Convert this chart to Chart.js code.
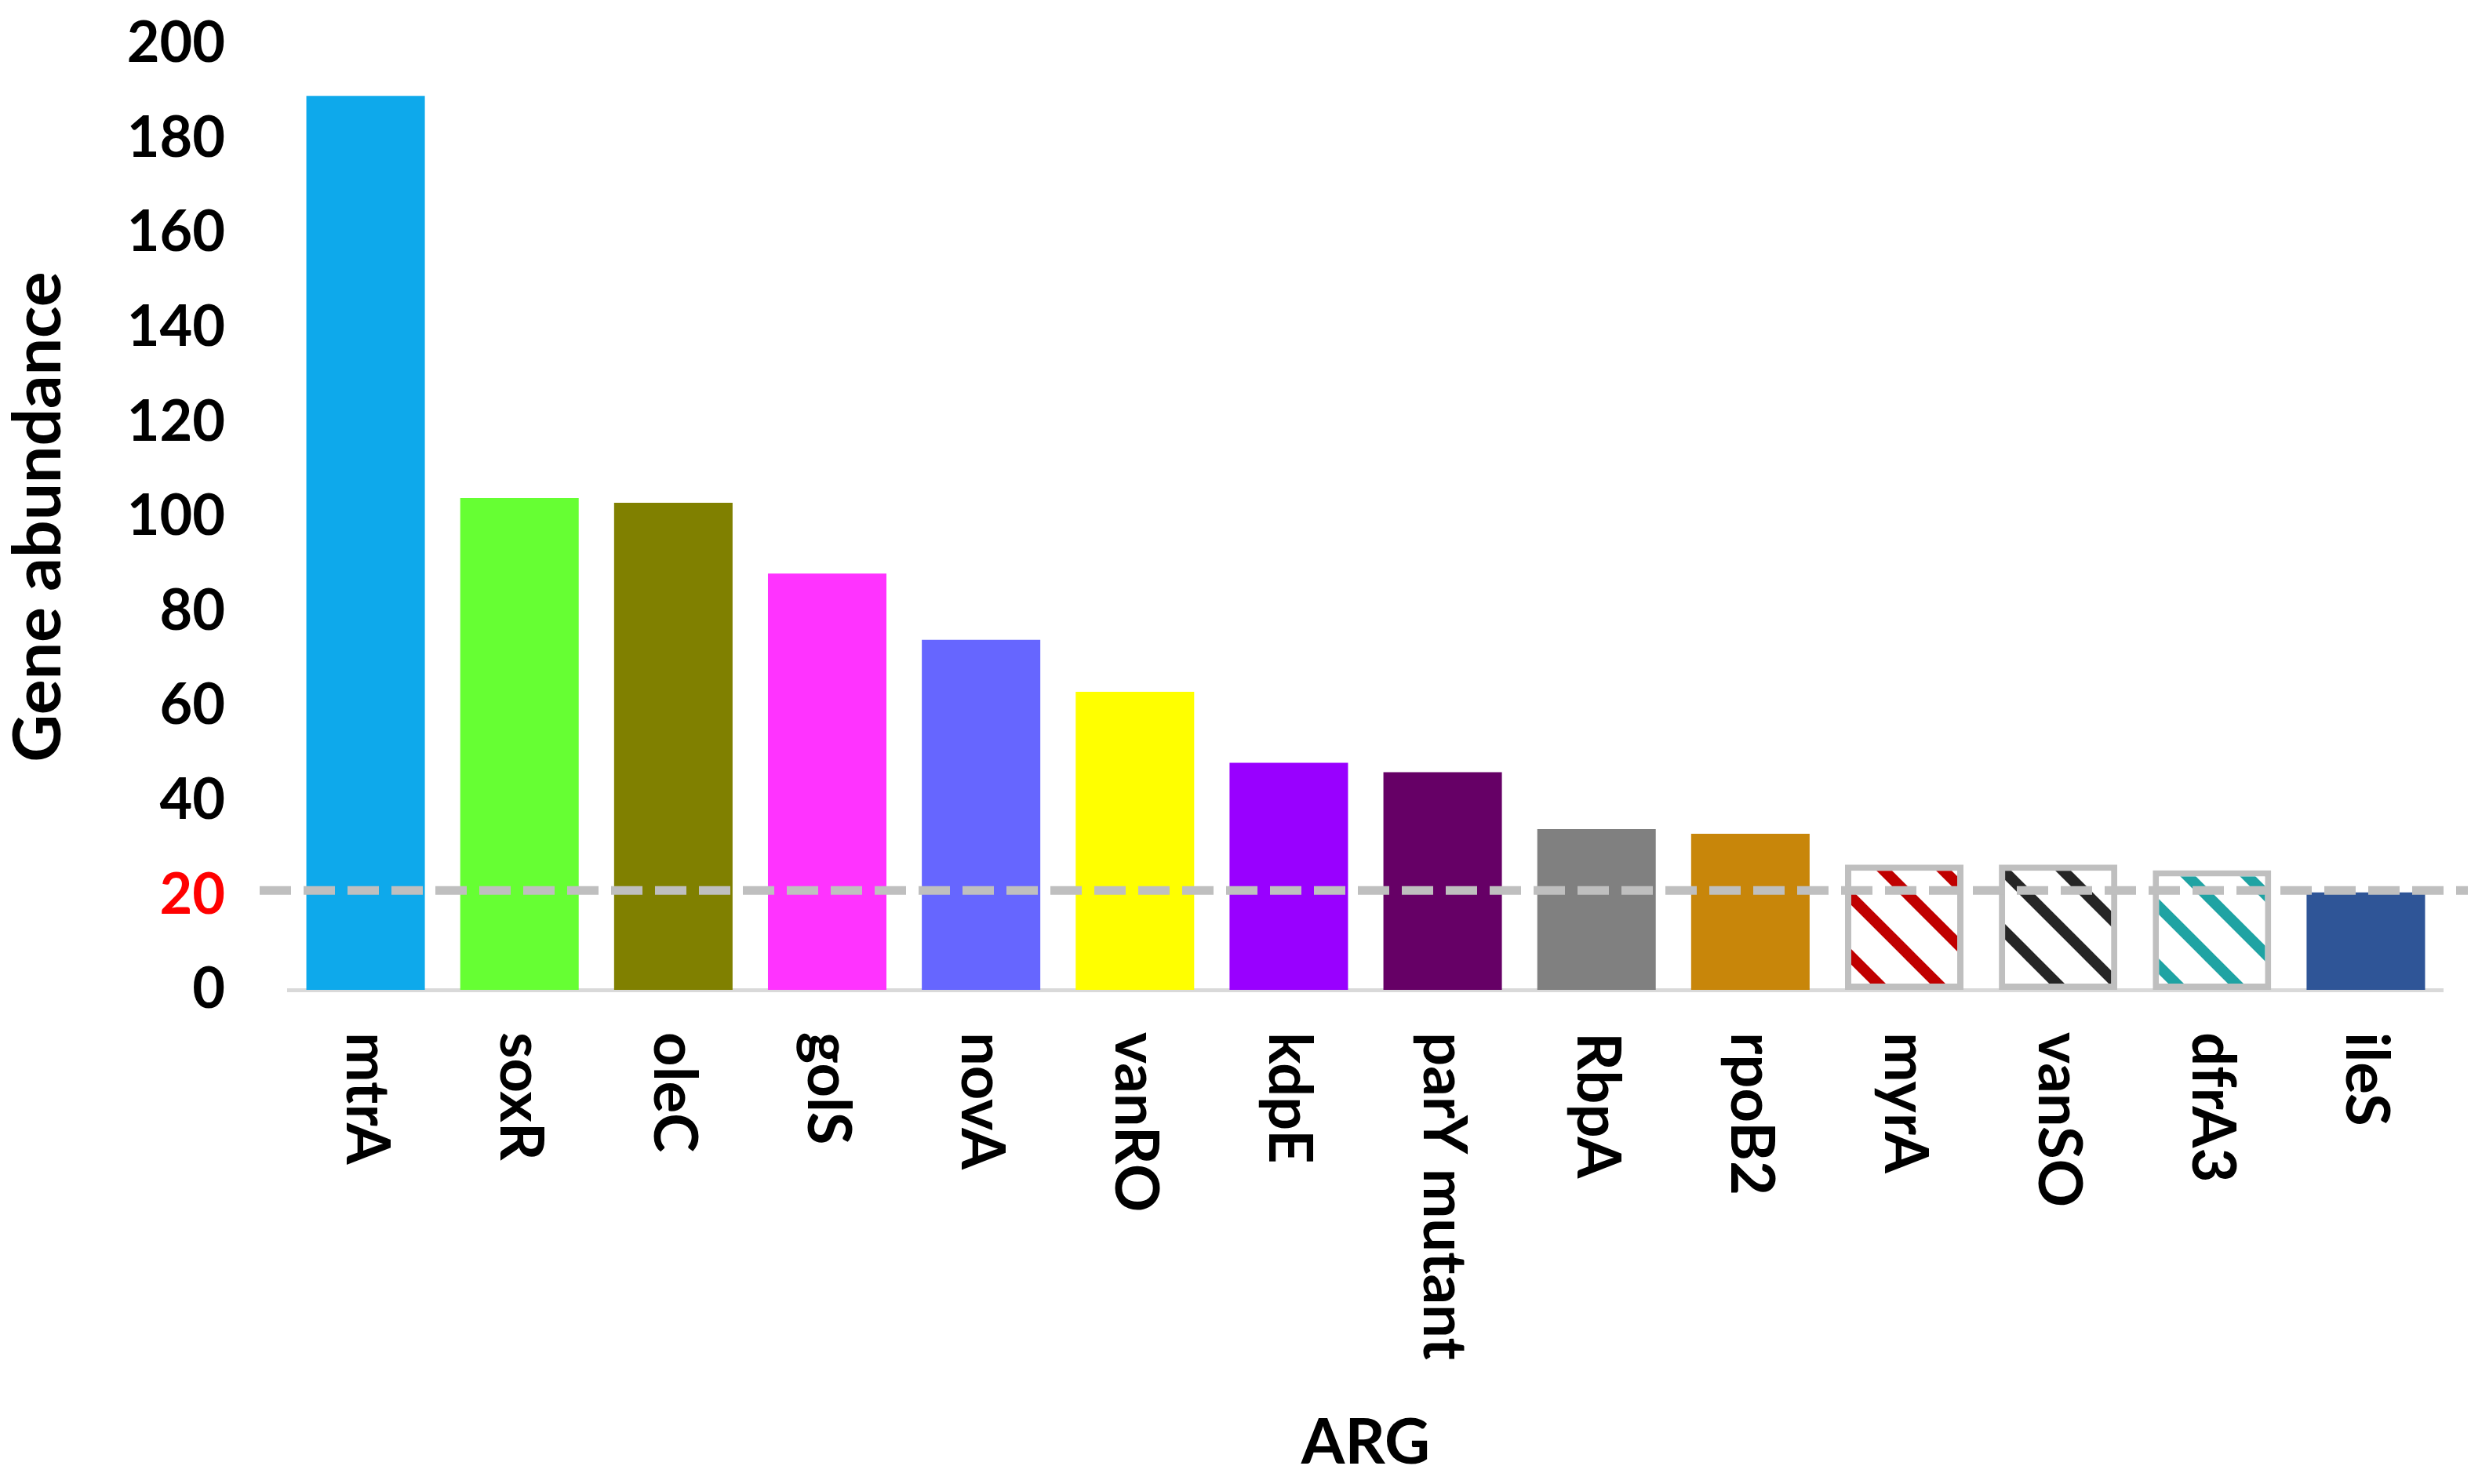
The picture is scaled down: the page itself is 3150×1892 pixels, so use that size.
<!DOCTYPE html>
<html>
<head>
<meta charset="utf-8">
<script src="https://cdn.jsdelivr.net/npm/chart.js@4.4.1/dist/chart.umd.min.js"></script>
<style>
  html, body { margin: 0; padding: 0; background: #fff; }
  #wrap { width: 3150px; height: 1892px; }
</style>
</head>
<body>
<div id="wrap"><canvas id="argChart" width="3150" height="1892"></canvas></div>
<script>
// ARG gene abundance data
const genes = ['mtrA', 'soxR', 'oleC', 'golS', 'novA', 'vanRO', 'kdpE', 'parY mutant', 'RbpA', 'rpoB2', 'myrA', 'vanSO', 'dfrA3', 'ileS'];
const abundance = [189, 104, 103, 88, 74, 63, 48, 46, 34, 33, 26.5, 26.5, 25.3, 20.6];
const fillColors = ['#0EA9EB', '#66FF33', '#808000', '#FF33FF', '#6666FF', '#FFFF00', '#9900FF', '#660066', '#808080', '#C8860A', null, null, null, '#2F5597'];
const hatchColors = [null, null, null, null, null, null, null, null, null, null, '#C00000', '#262626', '#1FA3A3', null];
const thresholdValue = 21;
const highlightTick = 20;

const labelFont = "Lato, 'Open Sans', sans-serif";

function makeHatch(color) {
    const size = 76;
    const c = document.createElement('canvas');
    c.width = size;
    c.height = size;
    const g = c.getContext('2d');
    g.fillStyle = '#ffffff';
    g.fillRect(0, 0, size, size);
    g.strokeStyle = color;
    g.lineWidth = 14;
    g.beginPath();
    // long diagonals so the stripe runs through the tile edges without gaps
    for (let k = -1; k <= 1; k++) {
        g.moveTo(k * size - size, -size);
        g.lineTo(k * size + 2 * size, 2 * size);
    }
    g.stroke();
    return g.createPattern(c, 'repeat');
}

const bgColors = genes.map((g, i) => hatchColors[i] ? makeHatch(hatchColors[i]) : fillColors[i]);
const borderWidths = genes.map((g, i) => hatchColors[i] ? 8 : 0);

// threshold dashed line across the plot
const thresholdLine = {
    id: 'thresholdLine',
    afterDatasetsDraw(chart) {
        const {ctx, chartArea, scales} = chart;
        const y = scales.y.getPixelForValue(thresholdValue);
        ctx.save();
        ctx.strokeStyle = '#BFBFBF';
        ctx.lineWidth = 11;
        ctx.setLineDash([40, 16]);
        ctx.beginPath();
        ctx.moveTo(chartArea.left - 37, y);
        ctx.lineTo(chartArea.right + 32, y);
        ctx.stroke();
        ctx.restore();
    }
};

// category labels rotated clockwise (read top to bottom)
const verticalLabels = {
    id: 'verticalLabels',
    afterDraw(chart) {
        const {ctx, chartArea, scales} = chart;
        ctx.save();
        ctx.fillStyle = '#000';
        ctx.font = 'bold 76px ' + labelFont;
        ctx.textAlign = 'left';
        ctx.textBaseline = 'middle';
        genes.forEach((name, i) => {
            const x = scales.x.getPixelForValue(i);
            ctx.save();
            ctx.translate(x, chartArea.bottom + 54);
            ctx.rotate(Math.PI / 2);
            ctx.fillText(name, 0, 0);
            ctx.restore();
        });
        ctx.restore();
    }
};

new Chart(document.getElementById('argChart').getContext('2d'), {
    type: 'bar',
    data: {
        labels: genes,
        datasets: [{
            label: 'Gene abundance',
            data: abundance,
            backgroundColor: bgColors,
            borderColor: '#BFBFBF',
            borderWidth: borderWidths,
            borderSkipped: false,
            barPercentage: 0.77,
            categoryPercentage: 1.0
        }]
    },
    options: {
        responsive: false,
        animation: false,
        devicePixelRatio: 1,
        layout: {
            padding: { top: 56, right: 36, bottom: 0, left: 0 }
        },
        scales: {
            x: {
                grid: { display: false, drawTicks: false },
                border: { display: true, color: '#D9D9D9', width: 5 },
                ticks: { display: false },
                title: {
                    display: true,
                    text: 'ARG',
                    color: '#000',
                    font: { family: labelFont, size: 80, weight: 'bold', lineHeight: 1.2 },
                    padding: { top: 0, bottom: 4 }
                },
                afterFit(scale) {
                    scale.height = 630;
                }
            },
            y: {
                min: 0,
                max: 200,
                grid: { display: false, drawTicks: false },
                border: { display: false },
                ticks: {
                    stepSize: 20,
                    padding: 81,
                    color: ctx => ctx.tick && ctx.tick.value === highlightTick ? '#FF0000' : '#000000',
                    font: { family: labelFont, size: 72, weight: 'bold' }
                },
                title: {
                    display: true,
                    text: 'Gene abundance',
                    color: '#000',
                    font: { family: labelFont, size: 84, weight: 'bold', lineHeight: 1.0 },
                    padding: { top: 8, bottom: 0 }
                },
                afterFit(scale) {
                    scale.width = 368;
                    // tick padding is horizontal here, keep it out of the top margin
                    scale.paddingTop = 0;
                    scale.paddingBottom = 0;
                }
            }
        },
        plugins: {
            legend: { display: false },
            tooltip: { enabled: false }
        }
    },
    plugins: [thresholdLine, verticalLabels]
});
</script>
</body>
</html>
